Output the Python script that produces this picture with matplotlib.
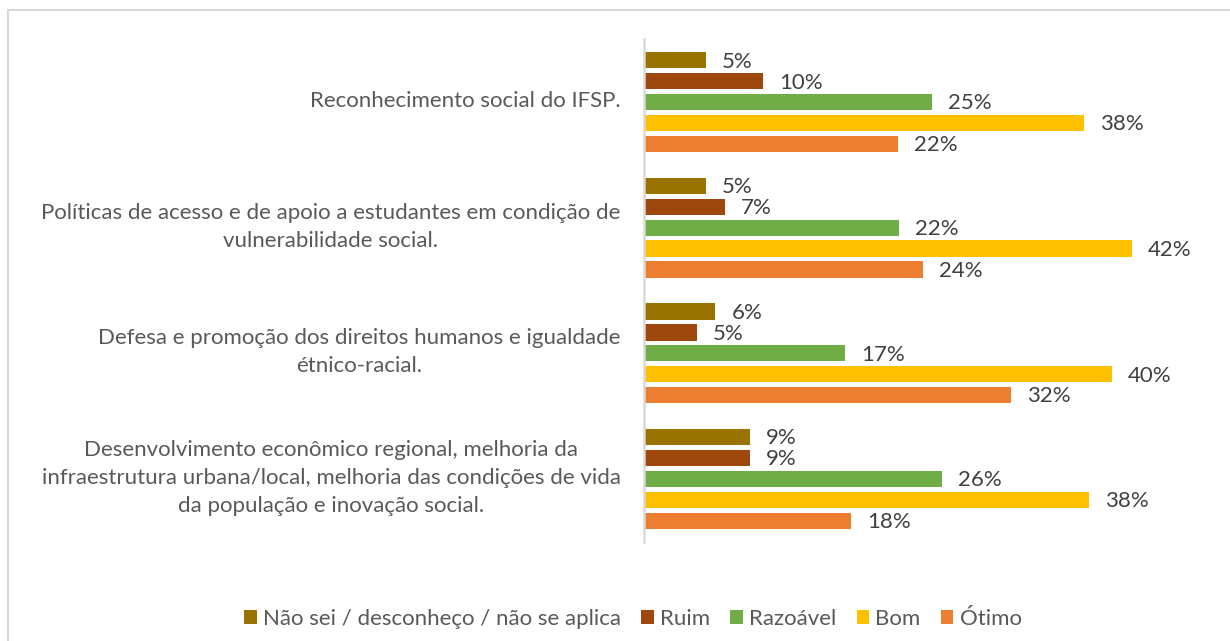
# avaliação da atuação do IFSP - barras horizontais agrupadas

import numpy as np
import matplotlib.pyplot as plt
from matplotlib.patches import Rectangle, Patch
from matplotlib.transforms import blended_transform_factory, ScaledTranslation

plt.rcParams['font.family'] = ['Lato', 'DejaVu Sans']

categories = [
    "Reconhecimento social do IFSP.",
    "Políticas de acesso e de apoio a estudantes em condição de\nvulnerabilidade social.",
    "Defesa e promoção dos direitos humanos e igualdade\nétnico-racial.",
    "Desenvolvimento econômico regional, melhoria da\ninfraestrutura urbana/local, melhoria das condições de vida\nda população e inovação social.",
]
series = ["Não sei / desconheço / não se aplica", "Ruim", "Razoável", "Bom", "Ótimo"]

nao_sei = [5.4, 5.4, 6.2, 9.2]
ruim = [10.3, 7.0, 4.6, 9.2]
razoavel = [24.9, 22.0, 17.4, 25.7]
bom = [38.0, 42.1, 40.4, 38.4]
otimo = [21.9, 24.1, 31.7, 17.9]

colors = ["#997300", "#9E480E", "#70AD47", "#FFC000", "#ED7D31"]

values = [nao_sei, ruim, razoavel, bom, otimo]

fig = plt.figure(figsize=(12.3, 6.41), dpi=100)
ax = fig.add_axes([643.5 / 1230, 1 - 541.7 / 641, (1200 - 643.5) / 1230, (541.7 - 39.3) / 641])

y = np.arange(len(categories))
step = 0.1664
height = 0.13
fs = 16

for i, (vals, col) in enumerate(zip(values, colors)):
    pos = y + (i - 2) * step
    ax.barh(pos, vals, height=height, color=col, edgecolor="none")
    for p, v in zip(pos, vals):
        ax.annotate(f"{v:.0f}%", xy=(v, p), xytext=(11.5, -1), textcoords="offset points",
                    va="center", ha="left", fontsize=fs, color="#404040")

ax.set_xlim(0, (1200 - 643.5) / 11.6)
ax.set_ylim(3.5, -0.5)
ax.set_xticks([])
ax.set_yticks([])

# rótulos das categorias, alinhados à direita e centralizados linha a linha
trans = blended_transform_factory(ax.transAxes, ax.transData) + \
    ScaledTranslation(-23 / 100, 1 / 100, fig.dpi_scale_trans)
for yi, lab in zip(y, categories):
    ax.text(0, yi, lab, transform=trans, ha="right", va="center", multialignment="center",
            fontsize=fs, color="#595959", linespacing=1.5)

for s in ["top", "right", "bottom"]:
    ax.spines[s].set_visible(False)
ax.spines["left"].set_color("#d9d9d9")
ax.spines["left"].set_linewidth(1.8)

handles = [Patch(facecolor=c, edgecolor="none") for c in colors]
fig.legend(handles, series, loc="center", bbox_to_anchor=(633 / 1230, 1 - 619 / 641),
           ncol=5, frameon=False, fontsize=fs, labelcolor="#595959",
           handlelength=0.55, handleheight=0.55, handletextpad=0.3, columnspacing=0.9)

# moldura cinza do gráfico
fig.patches.append(Rectangle((8 / 1230, -0.1), 1.2, 1 - 10 / 641 + 0.1, transform=fig.transFigure,
                             fill=False, edgecolor="#d9d9d9", linewidth=1.5))

fig.savefig("out.png", dpi=100)
